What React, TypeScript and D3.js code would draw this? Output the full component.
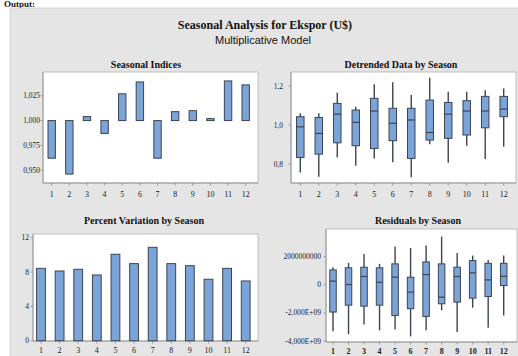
import React from "react";
import * as d3 from "d3";

// Seasons (months)
const seasons = [1, 2, 3, 4, 5, 6, 7, 8, 9, 10, 11, 12];

// Seasonal indices (multiplicative, baseline 1)
const seasonalIndices = [0.962, 0.946, 1.004, 0.987, 1.027, 1.039, 0.962, 1.009, 1.01, 1.002, 1.04, 1.036];
const indexTicks = [0.95, 0.975, 1.0, 1.025];

// Detrended data by season: [whiskerLow, q1, median, q3, whiskerHigh]
const detrendedStats: number[][] = [
  [0.757, 0.834, 0.991, 1.043, 1.06],
  [0.735, 0.851, 0.957, 1.039, 1.06],
  [0.834, 0.909, 1.056, 1.111, 1.166],
  [0.791, 0.894, 1.014, 1.077, 1.094],
  [0.829, 0.88, 1.072, 1.137, 1.209],
  [0.809, 0.92, 1.009, 1.086, 1.219],
  [0.732, 0.829, 1.026, 1.086, 1.154],
  [0.901, 0.923, 0.962, 1.128, 1.243],
  [0.807, 0.932, 1.056, 1.116, 1.171],
  [0.894, 0.949, 1.072, 1.125, 1.171],
  [0.826, 0.986, 1.072, 1.147, 1.179],
  [0.889, 1.043, 1.082, 1.147, 1.188],
];
const detrendedTicks = [0.8, 1.0, 1.2];

// Percent variation by season
const percentVariation = [8.43, 8.12, 8.32, 7.66, 10.07, 8.98, 10.88, 8.98, 8.74, 7.16, 8.43, 6.96];
const percentTicks = [0, 4, 8, 12];

// Residuals by season (units of 1e9): [whiskerLow, q1, median, q3, whiskerHigh]
const residualStats: number[][] = [
  [-3.31, -1.94, 0.26, 1.06, 1.25],
  [-3.52, -1.45, 0.02, 1.21, 1.56],
  [-2.82, -1.52, 0.59, 1.25, 2.2],
  [-3.24, -1.45, 0.18, 1.21, 1.49],
  [-3.19, -2.18, 0.54, 1.49, 2.72],
  [-3.67, -1.7, -0.52, 0.54, 2.62],
  [-3.24, -2.25, 0.73, 1.63, 2.79],
  [-1.82, -1.35, -0.88, 1.49, 3.43],
  [-3.36, -1.23, 0.59, 1.25, 2.27],
  [-1.63, -0.95, 0.85, 1.72, 2.08],
  [-3.05, -0.83, 0.35, 1.53, 1.77],
  [-2.18, -0.05, 0.61, 1.53, 2.08],
];
const residualTicks = [-4, -2, 0, 2];
const residualTickLabels = ["-4,000E+09", "-2,000E+09", "0", "2000000000"];

const FILL = "#7ba4d9";
const EDGE = "#3d4452";
const AXIS = "#9a9a9a";
const SERIF = "'Liberation Serif', 'Times New Roman', serif";
const SANS = "'Liberation Sans', Arial, sans-serif";

type Frame = { x0: number; x1: number; y0: number; y1: number };

function PlotFrame({ f, title, titleX, titleY }: { f: Frame; title: string; titleX: number; titleY: number }) {
  return (
    <g>
      <text x={titleX} y={titleY} textAnchor="middle" fontFamily={SERIF} fontWeight="bold" fontSize={10} fill="#111">
        {title}
      </text>
      <rect x={f.x0} y={f.y0} width={f.x1 - f.x0} height={f.y1 - f.y0} fill="#fff" stroke="#b4b4b4" strokeWidth={0.8} />
      <line x1={f.x0} x2={f.x1} y1={f.y1} y2={f.y1} stroke={AXIS} strokeWidth={1} />
      <line x1={f.x0} x2={f.x0} y1={f.y0} y2={f.y1} stroke={AXIS} strokeWidth={1} />
    </g>
  );
}

function XAxis({ f, x, bold, labelY }: { f: Frame; x: d3.ScalePoint<number>; bold?: boolean; labelY: number }) {
  return (
    <g>
      {seasons.map((s) => (
        <g key={s}>
          <line x1={x(s)} x2={x(s)} y1={f.y1} y2={f.y1 + 2.5} stroke={AXIS} />
          <text x={x(s)} y={labelY} textAnchor="middle" fontFamily={SERIF} fontSize={8} fontWeight={bold ? "bold" : "normal"} fill="#222">
            {s}
          </text>
        </g>
      ))}
    </g>
  );
}

function YAxis({ f, y, ticks, labels, labelX }: { f: Frame; y: d3.ScaleLinear<number, number>; ticks: number[]; labels: string[]; labelX: number }) {
  return (
    <g>
      {ticks.map((t, i) => (
        <g key={t}>
          <line x1={f.x0 - 2.5} x2={f.x0} y1={y(t)} y2={y(t)} stroke={AXIS} />
          <text x={labelX} y={y(t) + 2.5} textAnchor="end" fontFamily={SERIF} fontSize={7.5} fill="#222">
            {labels[i]}
          </text>
        </g>
      ))}
    </g>
  );
}

function Boxes({ stats, x, y, w }: { stats: number[][]; x: d3.ScalePoint<number>; y: d3.ScaleLinear<number, number>; w: number }) {
  return (
    <g>
      {stats.map((st, i) => {
        const cx = x(seasons[i])!;
        const [lo, q1, med, q3, hi] = st;
        return (
          <g key={i}>
            <line x1={cx} x2={cx} y1={y(hi)} y2={y(q3)} stroke={EDGE} strokeWidth={1.4} />
            <line x1={cx} x2={cx} y1={y(q1)} y2={y(lo)} stroke={EDGE} strokeWidth={1.4} />
            <rect x={cx - w / 2} y={y(q3)} width={w} height={y(q1) - y(q3)} fill={FILL} stroke={EDGE} strokeWidth={1} />
            <line x1={cx - w / 2} x2={cx + w / 2} y1={y(med)} y2={y(med)} stroke={EDGE} strokeWidth={1.2} />
          </g>
        );
      })}
    </g>
  );
}

const fmtComma = (d: number, digits: number) => d.toFixed(digits).replace(".", ",");

export default function App() {
  // Panel frames
  const f1: Frame = { x0: 43, x1: 258, y0: 72, y1: 183 };
  const f2: Frame = { x0: 291, x1: 516, y0: 72, y1: 183 };
  const f3: Frame = { x0: 33, x1: 258, y0: 234, y1: 341 };
  const f4: Frame = { x0: 326, x1: 517, y0: 229, y1: 342 };

  // Seasonal indices
  const x1 = d3.scalePoint<number>().domain(seasons).range([51.7, 245.7]);
  const y1 = d3.scaleLinear().domain([0.937, 1.049]).range([f1.y1, f1.y0]);

  // Detrended
  const x2 = d3.scalePoint<number>().domain(seasons).range([300.3, 503.7]);
  const y2 = d3.scaleLinear().domain([0.703, 1.272]).range([f2.y1, f2.y0]);

  // Percent variation
  const x3 = d3.scalePoint<number>().domain(seasons).range([41, 245.7]);
  const y3 = d3.scaleLinear().domain([0, 12]).range([340.7, 237.7]);

  // Residuals
  const x4 = d3.scalePoint<number>().domain(seasons).range([333, 503.7]);
  const y4 = d3.scaleLinear().domain([-4, 2]).range([341, 256.7]);

  return (
    <svg width={518} height={356} style={{ position: "absolute", left: 0, top: 0, display: "block" }}>
      <rect x={0} y={0} width={518} height={356} fill="#fff" />
      <text x={4} y={7} fontFamily={SERIF} fontWeight="bold" fontSize={9} fill="#111">Output:</text>
      <rect x={10} y={8} width={520} height={360} fill="#e5e5e5" stroke="#cfcfcf" strokeWidth={0.8} />

      <text x={265} y={29} textAnchor="middle" fontFamily={SERIF} fontWeight="bold" fontSize={12} fill="#111">
        Seasonal Analysis for Ekspor (U$)
      </text>
      <text x={263} y={44} textAnchor="middle" fontFamily={SANS} fontSize={11} fill="#111">
        Multiplicative Model
      </text>

      {/* Seasonal Indices */}
      <PlotFrame f={f1} title="Seasonal Indices" titleX={146} titleY={68} />
      <YAxis f={f1} y={y1} ticks={indexTicks} labels={indexTicks.map((t) => fmtComma(t, 3))} labelX={40} />
      <XAxis f={f1} x={x1} labelY={197} />
      {seasonalIndices.map((v, i) => {
        const cx = x1(seasons[i])!;
        const top = y1(Math.max(v, 1));
        const bot = y1(Math.min(v, 1));
        return (
          <rect key={i} x={cx - 3.7} y={top} width={7.4} height={Math.max(bot - top, 1)} fill={FILL} stroke={EDGE} strokeWidth={1} />
        );
      })}

      {/* Detrended Data by Season */}
      <PlotFrame f={f2} title="Detrended Data by Season" titleX={401} titleY={68} />
      <YAxis f={f2} y={y2} ticks={detrendedTicks} labels={detrendedTicks.map((t) => fmtComma(t, 1))} labelX={283} />
      <XAxis f={f2} x={x2} labelY={197} />
      <Boxes stats={detrendedStats} x={x2} y={y2} w={7.5} />

      {/* Percent Variation by Season */}
      <PlotFrame f={f3} title="Percent Variation by Season" titleX={144} titleY={224} />
      <YAxis f={f3} y={y3} ticks={percentTicks} labels={percentTicks.map(String)} labelX={29} />
      <XAxis f={f3} x={x3} labelY={353} />
      {percentVariation.map((v, i) => {
        const cx = x3(seasons[i])!;
        return (
          <rect key={i} x={cx - 4.4} y={y3(v)} width={8.8} height={y3(0) - y3(v)} fill={FILL} stroke={EDGE} strokeWidth={1} />
        );
      })}

      {/* Residuals by Season */}
      <PlotFrame f={f4} title="Residuals by Season" titleX={418} titleY={224} />
      <YAxis f={f4} y={y4} ticks={residualTicks} labels={residualTickLabels} labelX={321} />
      <XAxis f={f4} x={x4} bold labelY={354} />
      <Boxes stats={residualStats} x={x4} y={y4} w={6.5} />
    </svg>
  );
}
